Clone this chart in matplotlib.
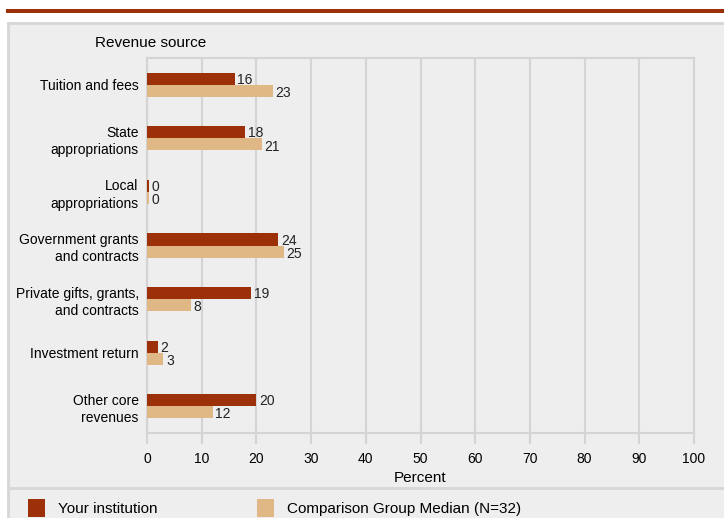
import matplotlib
matplotlib.use("Agg")
import numpy as np
import matplotlib.pyplot as plt
from matplotlib.patches import Rectangle
from matplotlib.lines import Line2D

plt.rcParams["font.family"] = ["Liberation Sans", "DejaVu Sans"]

categories = [
    "Tuition and fees",
    "State\nappropriations",
    "Local\nappropriations",
    "Government grants\nand contracts",
    "Private gifts, grants,\nand contracts",
    "Investment return",
    "Other core\nrevenues",
]
your_institution = [16, 18, 0.4, 24, 19, 2, 20]
your_labels = ["16", "18", "0", "24", "19", "2", "20"]
comparison_median = [23, 21, 0.4, 25, 8, 3, 12]
comparison_labels = ["23", "21", "0", "25", "8", "3", "12"]
x_ticks = [0, 10, 20, 30, 40, 50, 60, 70, 80, 90, 100]

dark_red = "#9c3008"
tan = "#e0b886"
panel = "#eeeeee"
grid_grey = "#d4d4d4"

fig = plt.figure(figsize=(7.24, 5.18), dpi=100)
fig.patch.set_facecolor("white")

W, H = 724, 518


def fx(px):
    return px / W


def fy(py):
    return 1 - py / H


# panel background and frame
fig.patches.append(Rectangle((fx(8), 0), 1 - fx(8), fy(23), transform=fig.transFigure,
                             facecolor=panel, edgecolor="none", zorder=-5))
fig.lines.append(Line2D([fx(8), 1], [fy(23), fy(23)], transform=fig.transFigure,
                        color="#d6d6d6", lw=2, zorder=-4))
fig.lines.append(Line2D([fx(8), fx(8)], [0, fy(23)], transform=fig.transFigure,
                        color="#d6d6d6", lw=2, zorder=-4))
fig.lines.append(Line2D([fx(8), 1], [fy(488), fy(488)], transform=fig.transFigure,
                        color="#d6d6d6", lw=2, zorder=-4))
# top band
fig.patches.append(Rectangle((fx(6), fy(13)), 1 - fx(6), 4 / H, transform=fig.transFigure,
                             facecolor=dark_red, edgecolor="none", zorder=-4))

ax = fig.add_axes([fx(147), fy(433), fx(694) - fx(147), fy(58) - fy(433)])
ax.set_zorder(2)
ax.set_facecolor(panel)

n = len(categories)
y = np.arange(n)
h = 0.225

ax.barh(y - h / 2, your_institution, height=h, color=dark_red, zorder=3)
ax.barh(y + h / 2, comparison_median, height=h, color=tan, zorder=3)

for i in range(n):
    ax.text(your_institution[i] + 0.5, y[i] - h / 2 + 0.02, your_labels[i],
            va="center", ha="left", fontsize=10, color="#222222", zorder=4)
    ax.text(comparison_median[i] + 0.5, y[i] + h / 2 + 0.04, comparison_labels[i],
            va="center", ha="left", fontsize=10, color="#222222", zorder=4)

ax.set_xlim(0, 100)
ax.set_ylim(n - 0.5, -0.5)
ax.set_xticks(x_ticks)
ax.set_xticklabels([str(t) for t in x_ticks], fontsize=10)
ax.set_yticks(y)
ax.set_yticklabels(categories, fontsize=10, ha="right", multialignment="right",
                   linespacing=1.3)
ax.tick_params(axis="y", length=0, pad=6)
ax.tick_params(axis="x", length=8, width=1.5, color=grid_grey, pad=6)
ax.grid(axis="x", color=grid_grey, lw=1.5, zorder=0)
ax.set_axisbelow(True)
for s in ax.spines.values():
    s.set_color(grid_grey)
    s.set_linewidth(1.5)
ax.set_xlabel("Percent", fontsize=11, labelpad=3)

fig.text(fx(95), fy(43), "Revenue source", fontsize=11, va="center", ha="left")

# legend
fig.patches.append(Rectangle((fx(28), fy(517)), 17 / W, 18 / H, transform=fig.transFigure,
                             facecolor=dark_red, edgecolor="none"))
fig.text(fx(58), fy(509), "Your institution", fontsize=11, va="center", ha="left")
fig.patches.append(Rectangle((fx(257), fy(517)), 17 / W, 18 / H, transform=fig.transFigure,
                             facecolor=tan, edgecolor="none"))
fig.text(fx(287), fy(509), "Comparison Group Median (N=32)", fontsize=11, va="center", ha="left")

fig.savefig("out.png", dpi=100, facecolor=fig.get_facecolor())
